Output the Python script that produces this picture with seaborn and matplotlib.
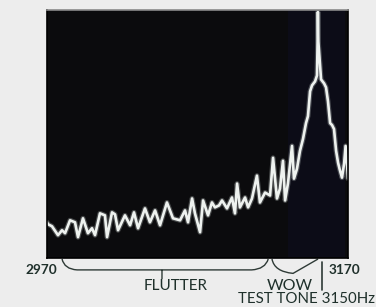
import numpy as np
import pandas as pd
import matplotlib
matplotlib.use("Agg")
import matplotlib.pyplot as plt
from matplotlib.path import Path
from matplotlib.patches import PathPatch
import seaborn as sns

# Frequency (Hz) and level (arbitrary units)
freq = [2970.0, 2970.7, 2973.3, 2977.3, 2980.0, 2982.0, 2985.3, 2988.6, 2990.6, 2993.9,
        2997.2, 2999.9, 3001.9, 3005.2, 3008.5, 3009.9, 3013.2, 3015.2, 3017.2, 3021.8,
        3025.2, 3027.8, 3030.5, 3035.1, 3038.4, 3041.8, 3045.1, 3049.7, 3053.7, 3058.4,
        3061.7, 3063.7, 3066.4, 3068.3, 3071.7, 3073.7, 3077.0, 3079.6, 3081.6, 3084.3,
        3086.3, 3089.6, 3092.9, 3094.9, 3096.3, 3098.2, 3101.6, 3103.6, 3106.2, 3109.5,
        3111.5, 3114.9, 3118.2, 3120.2, 3122.8, 3124.8, 3126.8, 3128.2, 3130.1, 3132.8,
        3134.1, 3136.1, 3138.1, 3140.1, 3142.1, 3143.4, 3144.8, 3146.1, 3148.1, 3149.4,
        3149.8, 3150.0, 3150.3, 3152.1, 3154.1, 3155.4, 3156.7, 3158.1, 3159.4, 3160.7,
        3162.1, 3163.4, 3164.7, 3166.0, 3167.4, 3168.4, 3169.4, 3170.0]
level = [36, 34, 32, 23, 28, 25, 38, 36, 21, 40,
         25, 30, 23, 45, 43, 21, 46, 44, 28, 43,
         33, 46, 30, 50, 36, 48, 33, 56, 40, 38,
         48, 36, 60, 45, 26, 58, 43, 56, 51, 53,
         58, 50, 61, 45, 75, 51, 61, 51, 60, 83,
         56, 66, 63, 101, 60, 70, 98, 58, 75, 113,
         80, 90, 108, 120, 136, 143, 168, 174, 178, 184,
         218, 248, 218, 180, 176, 172, 158, 136, 134, 130,
         108, 96, 88, 81, 95, 113, 93, 80]

tick_labels = ["2970", "3170"]
flutter_label = "FLUTTER"
wow_label = "WOW"
tone_label = "TEST TONE 3150Hz"

sns.set_theme(style="white")
plt.rcParams['font.family'] = ['Lato', 'DejaVu Sans']

fig = plt.figure(figsize=(3.76, 3.07), dpi=100, facecolor="#ededed")
ax = fig.add_axes([47/376, 1 - 258/307, 301/376, 248/307])
ax.set_facecolor("#0b0b0d")

df = pd.DataFrame({"freq": freq, "level": level})
# soft glow under the trace, then the trace itself
sns.lineplot(data=df, x="freq", y="level", ax=ax, color="#cfd8d4", linewidth=3.6,
             alpha=0.3, estimator=None, sort=False)
sns.lineplot(data=df, x="freq", y="level", ax=ax, color="#eef2ef", linewidth=1.9,
             estimator=None, sort=False)

ax.set_xlim(2970, 3170)
ax.set_ylim(0, 250)
ax.set_xticks([])
ax.set_yticks([])
ax.set_xlabel("")
ax.set_ylabel("")
for s in ["left", "bottom", "right"]:
    ax.spines[s].set_color("#000000")
    ax.spines[s].set_linewidth(1.2)
ax.spines["top"].set_color("#8a8a8a")
ax.spines["top"].set_linewidth(1.2)

# subtle bluish tint near the tone
ax.axvspan(3130, 3168, color="#141448", alpha=0.18, lw=0, zorder=0)

tr = ax.get_xaxis_transform()
lc = "#2e3a36"
# FLUTTER brace
verts = [(2980, -0.004), (2981.5, -0.045), (2990, -0.048), (3046.4, -0.048),
         (3046.4, -0.048), (3046.4, -0.085), (3046.4, -0.048),
         (3106, -0.048), (3115, -0.045), (3117, -0.004)]
codes = [Path.MOVETO, Path.CURVE3, Path.CURVE3, Path.LINETO,
         Path.MOVETO, Path.LINETO, Path.MOVETO,
         Path.LINETO, Path.CURVE3, Path.CURVE3]
ax.add_patch(PathPatch(Path(verts, codes), transform=tr, fill=False, ec=lc, lw=1.0, clip_on=False))
# WOW brace
verts = [(3119.5, -0.004), (3121, -0.055), (3133.5, -0.062), (3150.1, -0.004)]
codes = [Path.MOVETO, Path.CURVE3, Path.CURVE3, Path.LINETO]
ax.add_patch(PathPatch(Path(verts, codes), transform=tr, fill=False, ec=lc, lw=1.0, clip_on=False))
# test tone marker
ax.plot([3152.7, 3152.7], [-0.016, -0.13], transform=tr, color=lc, lw=1.2, clip_on=False)

tc = "#1f302b"
fig.text(41/376, 1 - 270/307, tick_labels[0], ha="center", va="center", fontsize=9.8, color=tc, fontweight="bold")
fig.text(344/376, 1 - 270/307, tick_labels[1], ha="center", va="center", fontsize=9.8, color=tc, fontweight="bold")
fig.text(176/376, 1 - 286/307, flutter_label, ha="center", va="center", fontsize=11, color=tc)
fig.text(290/376, 1 - 286/307, wow_label, ha="center", va="center", fontsize=11.5, color=tc)
fig.text(307/376, 1 - 299/307, tone_label, ha="center", va="center", fontsize=10.8, color=tc)

fig.savefig("out.png", dpi=100, facecolor=fig.get_facecolor())
